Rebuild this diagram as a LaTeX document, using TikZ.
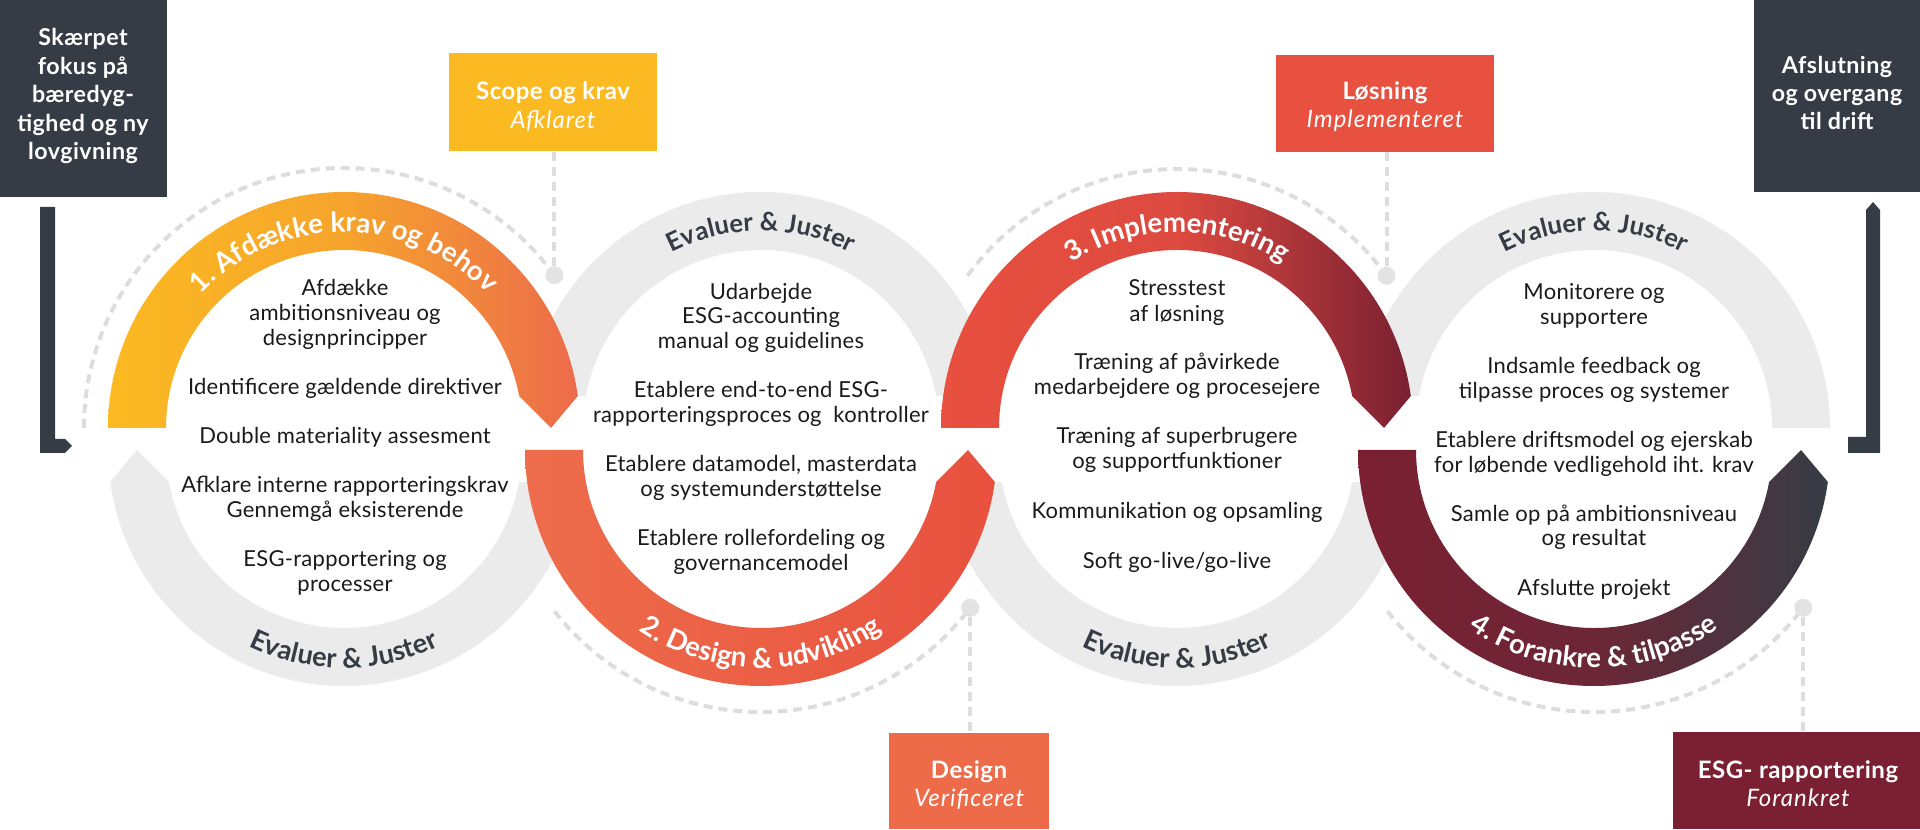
\documentclass[tikz,border=0pt]{standalone}
\usepackage{fontspec}
\setmainfont{Lato}
\newfontfamily\bodyfam[LetterSpace=1.2]{Lato}
\newfontfamily\boxfam[LetterSpace=2]{Lato}
\newfontfamily\boxifam[LetterSpace=4]{Lato}
\usetikzlibrary{decorations.text}
\definecolor{dk}{HTML}{363C45}
\definecolor{gr}{HTML}{EBEBEB}
\definecolor{yel}{HTML}{FBBA21}
\definecolor{yelmid}{HTML}{F6A42C}
\definecolor{org1}{HTML}{EC6B4B}
\definecolor{org2L}{HTML}{EE6D4B}
\definecolor{org2R}{HTML}{E8513F}
\definecolor{red3L}{HTML}{E8503F}
\definecolor{red3M}{HTML}{DD4A40}
\definecolor{mar}{HTML}{7A2032}
\definecolor{mar4M}{HTML}{6C2636}
\definecolor{txt}{HTML}{1A1A1A}
\definecolor{dashc}{HTML}{DDDDDD}
\definecolor{dotc}{HTML}{E3E3E3}
\definecolor{desbox}{HTML}{EE6B4A}
\definecolor{losbox}{HTML}{E8503F}
\newcommand\bodyfnt{\bodyfam\fontsize{11pt}{13pt}\selectfont}
\newcommand\lblfnt{\fontsize{13.8pt}{15pt}\selectfont\bfseries}
\newcommand\evfnt{\fontsize{12.8pt}{15pt}\selectfont\bfseries}
\newcommand\evbfnt{\fontsize{13.6pt}{15pt}\selectfont\bfseries}
\tikzset{
  bt/.style={font=\bodyfnt, text=txt, inner sep=0pt, anchor=base},
  hb/.style={font=\boxfam\fontsize{12pt}{14pt}\selectfont\bfseries, text=white, inner sep=0pt, anchor=base},
  hi/.style={font=\boxifam\fontsize{12pt}{14pt}\selectfont\itshape, text=white, inner sep=0pt, anchor=base},
  dkb/.style={font=\boxfam\fontsize{11.6pt}{13pt}\selectfont\bfseries, text=white, inner sep=0pt, anchor=base},
  dline/.style={draw=dashc, line width=2pt, dash pattern=on 4.5pt off 3pt},
  dotn/.style={circle, fill=dotc, minimum size=9pt, inner sep=0pt},
  boxn/.style={rectangle, inner sep=0pt},
  toplbl/.style={decorate, decoration={text along path, text={|\lblfnt|#1}, text align=center, text color=white}},
  toplbldk/.style={decorate, decoration={text along path, text={|\evfnt|#1}, text align=center, text color=dk}},
  botlbldk/.style={decorate, decoration={text along path, text={|\evbfnt|#1}, text align=center, text color=dk}},
}
\begin{document}
\begin{tikzpicture}[x=0.5pt,y=0.5pt]
\useasboundingbox (0,0) rectangle (1920,829);
\fill[white] (0,0) rectangle (1920,829);

% ---------- gray arcs ----------
\fill[gr] (137,379) -- (110.2,347) arc[start angle=187.79,end angle=352.21,radius=236] -- (519.1,347) arc[start angle=349.64,end angle=190.36,radius=178] -- cycle;
\fill[gr] (527.2,433) arc[start angle=172.21,end angle=7.79,radius=236] -- (936.1,433) arc[start angle=10.36,end angle=169.64,radius=178] -- cycle;
\fill[gr] (943.2,347) arc[start angle=187.79,end angle=352.21,radius=236] -- (1352.1,347) arc[start angle=349.64,end angle=190.36,radius=178] -- cycle;
\fill[gr] (1360.2,433) arc[start angle=172.21,end angle=0,radius=236] -- (1772,401) arc[start angle=0,end angle=169.64,radius=178] -- cycle;

% ---------- coloured arcs ----------
\shade[left color=yel, right color=org1, middle color=yelmid] (108,401) arc[start angle=180,end angle=7.79,radius=236] -- (551,401) -- (519.1,433) arc[start angle=10.36,end angle=180,radius=178] -- cycle;
\shade[left color=org2L, right color=org2R] (525,379) arc[start angle=180,end angle=352.21,radius=236] -- (968,379) -- (936.1,347) arc[start angle=349.64,end angle=180,radius=178] -- cycle;
\shade[left color=red3L, right color=mar, middle color=red3M] (941,401) arc[start angle=180,end angle=7.79,radius=236] -- (1384,401) -- (1352.1,433) arc[start angle=10.36,end angle=180,radius=178] -- cycle;
\shade[left color=mar, right color=dk, middle color=mar4M] (1358,379) arc[start angle=180,end angle=352.21,radius=236] -- (1801,379) -- (1769.1,347) arc[start angle=349.64,end angle=180,radius=178] -- cycle;

% ---------- arc labels ----------
\path[toplbl={1. Afdække krav og behov}] (148,401) arc[start angle=180,end angle=0,radius=196];
\path[toplbldk={Evaluer {\&} Juster}] (564,401) arc[start angle=180,end angle=0,radius=197];
\path[toplbl={3. Implementering}] (981,401) arc[start angle=180,end angle=0,radius=196];
\path[toplbldk={Evaluer {\&} Juster}] (1397,401) arc[start angle=180,end angle=0,radius=197];
\path[botlbldk={Evaluer {\&} Juster}] (126,379) arc[start angle=180,end angle=360,radius=218];
\path[toplbl={2. Design {\&} udvikling}] (543,379) arc[start angle=180,end angle=360,radius=218];
\path[botlbldk={Evaluer {\&} Juster}] (959,379) arc[start angle=180,end angle=360,radius=218];
\path[toplbl={4. Forankre {\&} tilpasse}] (1376,379) arc[start angle=180,end angle=360,radius=218];

% ---------- brackets ----------
\fill[dk] (40,622) -- (55,622) -- (55,390) -- (65,390) -- (72,383) -- (65,376) -- (40,376) -- cycle;
\fill[dk] (1848,376) -- (1880,376) -- (1880,619) -- (1873,627) -- (1866,619) -- (1866,392) -- (1848,392) -- cycle;

% ---------- boxes ----------
\node[boxn, fill=dk, minimum width=83.5pt, minimum height=98.5pt] (lbox) at (83.5,730.5) {};
\node[boxn, fill=dk, minimum width=83pt, minimum height=96pt] (rbox) at (1837,733) {};
\node[boxn, fill=yel, minimum width=104pt, minimum height=49pt] (scope) at (553,727) {};
\node[boxn, fill=losbox, minimum width=109pt, minimum height=48.5pt] (los) at (1385,725.5) {};
\node[boxn, fill=desbox, minimum width=80pt, minimum height=48pt] (des) at (969,48) {};
\node[boxn, fill=mar, minimum width=123.5pt, minimum height=48.5pt] (esg) at (1796.5,48.5) {};

% ---------- dashed arcs, dots, connectors ----------
\draw[dline] (84,401) arc[start angle=180,end angle=36,radius=260];
\node[dotn] (d1) at (554.3,553.8) {};
\draw[dline] (d1) -- (d1 |- scope.south);
\draw[dline] (554.5,217.7) arc[start angle=218,end angle=323,radius=262];
\node[dotn] (d2) at (970.2,221.3) {};
\draw[dline] (d2) -- (d2 |- des.north);
\draw[dline] (967.5,553.2) arc[start angle=144,end angle=36,radius=259];
\node[dotn] (d3) at (1386.5,553.2) {};
\draw[dline] (d3) -- (d3 |- los.south);
\draw[dline] (1387.5,217.7) arc[start angle=218,end angle=323,radius=262];
\node[dotn] (d4) at (1803.2,221.3) {};
\draw[dline] (d4) -- (d4 |- esg.north);

% ---------- box texts ----------
\node[dkb] (l1) at (83,783) {Skærpet};
\node[dkb] (l2) at (83,754.5) {fokus på};
\node[dkb] (l3) at (83,726) {bæredyg-};
\node[dkb] (l4) at (83,697.5) {tighed og ny};
\node[dkb] (l5) at (83,669) {lovgivning};
\node[dkb] (r1) at (1837,755) {Afslutning};
\node[dkb] (r2) at (1837,727) {og overgang};
\node[dkb] (r3) at (1837,699) {til drift};
\node[hb] (s1) at (553,729) {Scope og krav};
\node[hi] (s2) at (553,700) {Afklaret};
\node[hb] (o1) at (1385,729) {Løsning};
\node[hi] (o2) at (1385,701) {Implementeret};
\node[hb] (e1) at (969,50) {Design};
\node[hi] (e2) at (969,22) {Verificeret};
\node[hb] (g1) at (1798,50) {ESG- rapportering};
\node[hi] (g2) at (1798,23) {Forankret};

% ---------- ring texts ----------
\node[bt] (t1a) at (345,533) {Afdække};
\node[bt] (t1b) at (345,508) {ambitionsniveau og};
\node[bt] (t1c) at (345,483) {designprincipper};
\node[bt] (t1d) at (345,434) {Identificere gældende direktiver};
\node[bt] (t1e) at (345,385) {Double materiality assesment};
\node[bt] (t1f) at (345,336) {Afklare interne rapporteringskrav};
\node[bt] (t1g) at (345,311) {Gennemgå eksisterende};
\node[bt] (t1h) at (345,262) {ESG-rapportering og};
\node[bt] (t1i) at (345,237) {processer};

\node[bt] (t2a) at (761,529) {Udarbejde};
\node[bt] (t2b) at (761,505) {ESG-accounting};
\node[bt] (t2c) at (761,480) {manual og guidelines};
\node[bt] (t2d) at (761,431) {Etablere end-to-end ESG-};
\node[bt] (t2e) at (761,406) {rapporteringsproces og\ \ kontroller};
\node[bt] (t2f) at (761,357) {Etablere datamodel, masterdata};
\node[bt] (t2g) at (761,332) {og systemunderstøttelse};
\node[bt] (t2h) at (761,283) {Etablere rollefordeling og};
\node[bt] (t2i) at (761,258) {governancemodel};

\node[bt] (t3a) at (1177,533) {Stresstest};
\node[bt] (t3b) at (1177,507) {af løsning};
\node[bt] (t3c) at (1177,459) {Træning af påvirkede};
\node[bt] (t3d) at (1177,434) {medarbejdere og procesejere};
\node[bt] (t3e) at (1177,385) {Træning af superbrugere};
\node[bt] (t3f) at (1177,360) {og supportfunktioner};
\node[bt] (t3g) at (1177,310) {Kommunikation og opsamling};
\node[bt] (t3h) at (1177,260) {Soft go-live/go-live};

\node[bt] (t4a) at (1594,529) {Monitorere og};
\node[bt] (t4b) at (1594,504) {supportere};
\node[bt] (t4c) at (1594,455) {Indsamle feedback og};
\node[bt] (t4d) at (1594,430) {tilpasse proces og systemer};
\node[bt] (t4e) at (1594,381) {Etablere driftsmodel og ejerskab};
\node[bt] (t4f) at (1594,356) {for løbende vedligehold iht. krav};
\node[bt] (t4g) at (1594,307) {Samle op på ambitionsniveau};
\node[bt] (t4h) at (1594,283) {og resultat};
\node[bt] (t4i) at (1594,233) {Afslutte projekt};
\end{tikzpicture}
\end{document}
